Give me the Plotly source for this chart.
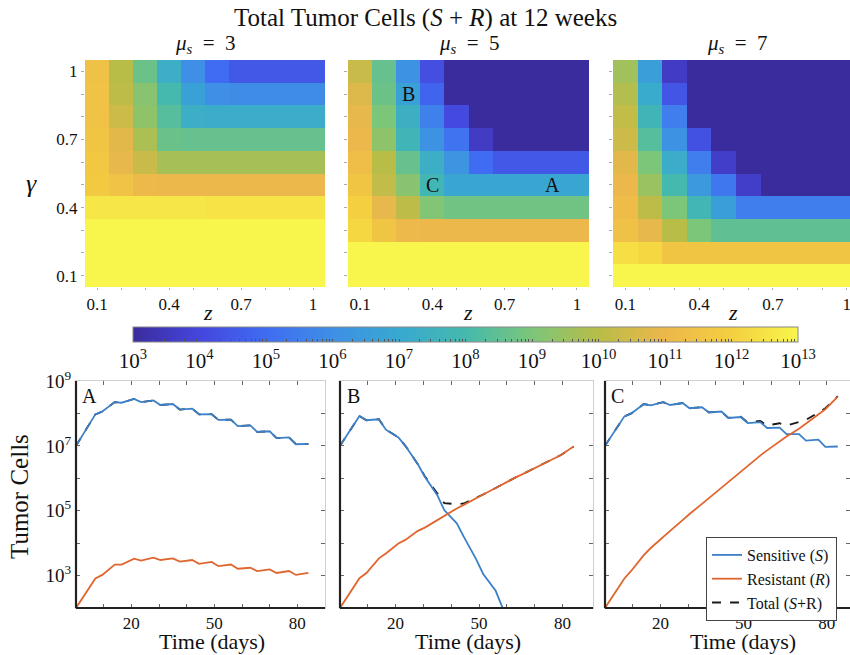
import math
import plotly.graph_objects as go

W, H = 850, 655
FONT = "Liberation Serif"
NB = "\u00a0"

# ---------------- heatmap data (log10 of total cells) ----------------
z_vals = [0.1, 0.2, 0.3, 0.4, 0.5, 0.6, 0.7, 0.8, 0.9, 1.0]
gamma_vals = [1.0, 0.9, 0.8, 0.7, 0.6, 0.5, 0.4, 0.3, 0.2, 0.1]   # rows, top to bottom
axis_ticktext = ["0.1", "", "", "0.4", "", "", "0.7", "", "", "1"]

mu3_log = [
    [11.4, 10.0, 8.7, 7.3, 6.0, 5.0, 4.5, 4.5, 4.5, 4.5],
    [11.5, 10.1, 9.2, 8.0, 6.7, 6.0, 5.9, 5.9, 5.9, 5.9],
    [11.5, 10.4, 9.3, 8.3, 7.3, 7.2, 7.2, 7.2, 7.2, 7.2],
    [11.6, 10.8, 9.8, 8.7, 8.6, 8.6, 8.6, 8.6, 8.6, 8.6],
    [11.7, 10.9, 10.3, 9.7, 9.7, 9.7, 9.7, 9.7, 9.7, 9.7],
    [11.8, 11.5, 11.1, 11.0, 11.0, 11.0, 11.0, 11.0, 11.0, 11.0],
    [12.6, 12.6, 12.6, 12.6, 12.6, 12.5, 12.5, 12.5, 12.5, 12.5],
    [13.0, 13.0, 13.0, 13.0, 13.0, 13.0, 13.0, 13.0, 13.0, 13.0],
    [13.0, 13.0, 13.0, 13.0, 13.0, 13.0, 13.0, 13.0, 13.0, 13.0],
    [13.0, 13.0, 13.0, 13.0, 13.0, 13.0, 13.0, 13.0, 13.0, 13.0],
]
mu5_log = [
    [10.3, 8.6, 6.1, 4.2, 3.0, 3.0, 3.0, 3.0, 3.0, 3.0],
    [10.7, 8.7, 6.7, 4.8, 3.0, 3.0, 3.0, 3.0, 3.0, 3.0],
    [10.9, 9.0, 7.4, 5.6, 4.1, 3.0, 3.0, 3.0, 3.0, 3.0],
    [11.0, 9.3, 7.7, 6.1, 5.2, 3.6, 3.0, 3.0, 3.0, 3.0],
    [11.3, 10.0, 8.6, 7.3, 6.2, 5.0, 4.5, 4.5, 4.5, 4.5],
    [11.6, 10.2, 9.2, 7.8, 6.9, 6.9, 6.9, 6.9, 6.9, 6.9],
    [12.0, 10.9, 10.1, 9.1, 8.8, 8.8, 8.8, 8.8, 8.8, 8.8],
    [12.2, 11.6, 11.1, 11.0, 11.0, 11.0, 11.0, 11.0, 11.0, 11.0],
    [13.0, 13.0, 13.0, 13.0, 13.0, 13.0, 13.0, 13.0, 13.0, 13.0],
    [13.0, 13.0, 13.0, 13.0, 13.0, 13.0, 13.0, 13.0, 13.0, 13.0],
]
mu7_log = [
    [9.6, 6.6, 3.6, 3.0, 3.0, 3.0, 3.0, 3.0, 3.0, 3.0],
    [9.9, 7.1, 4.4, 3.0, 3.0, 3.0, 3.0, 3.0, 3.0, 3.0],
    [10.2, 7.7, 5.5, 3.0, 3.0, 3.0, 3.0, 3.0, 3.0, 3.0],
    [10.4, 8.3, 6.1, 4.3, 3.0, 3.0, 3.0, 3.0, 3.0, 3.0],
    [10.8, 9.0, 7.2, 5.5, 3.7, 3.0, 3.0, 3.0, 3.0, 3.0],
    [11.0, 9.5, 8.0, 6.4, 5.3, 3.7, 3.0, 3.0, 3.0, 3.0],
    [11.2, 10.1, 9.0, 7.8, 6.6, 5.5, 5.5, 5.5, 5.5, 5.5],
    [11.4, 10.9, 10.0, 9.0, 8.5, 8.5, 8.5, 8.5, 8.5, 8.5],
    [12.4, 12.2, 11.6, 11.6, 11.6, 11.6, 11.6, 11.6, 11.6, 11.6],
    [13.0, 13.0, 13.0, 13.0, 13.0, 13.0, 13.0, 13.0, 13.0, 13.0],
]
mu_labels = ["3", "5", "7"]

# ---------------- time courses (log10 cells) ----------------
t_days = [0, 7, 9.5, 14, 16.5, 21, 23.5, 28, 30.5, 35, 37.5, 42, 44.5, 49,
          51.5, 56, 58.5, 63, 65.5, 70, 72.5, 77, 79.5, 84]

A_S = [7.0, 7.97, 8.06, 8.35, 8.33, 8.45, 8.35, 8.40, 8.26, 8.29, 8.12, 8.15,
       7.97, 7.98, 7.80, 7.81, 7.61, 7.63, 7.43, 7.45, 7.24, 7.26, 7.05, 7.06]
A_R = [2.0, 2.91, 3.02, 3.34, 3.34, 3.52, 3.46, 3.55, 3.48, 3.53, 3.43, 3.48,
       3.36, 3.42, 3.29, 3.34, 3.21, 3.24, 3.14, 3.19, 3.08, 3.14, 3.02, 3.08]

B_S = [7.0, 7.92, 7.79, 7.82, 7.50, 7.26, 7.0, 6.43, 6.05, 5.48, 5.02, 4.61,
       4.20, 3.50, 3.05, 2.53, 2.0, 1.4, None, None, None, None, None, None]
B_R = [2.0, 2.92, 3.08, 3.53, 3.68, 3.99, 4.10, 4.38, 4.48, 4.72, 4.83, 5.07,
       5.18, 5.40, 5.50, 5.70, 5.82, 6.02, 6.12, 6.32, 6.42, 6.62, 6.72, 6.98]

C_S = [7.0, 7.91, 8.0, 8.29, 8.25, 8.35, 8.26, 8.32, 8.16, 8.19, 8.03, 8.06,
       7.86, 7.89, 7.70, 7.73, 7.55, 7.56, 7.36, 7.36, 7.16, 7.19, 6.97, 6.98]
C_R = [2.0, 2.91, 3.15, 3.63, 3.85, 4.20, 4.38, 4.71, 4.90, 5.21, 5.39, 5.70,
       5.89, 6.21, 6.39, 6.70, 6.86, 7.13, 7.29, 7.53, 7.69, 7.96, 8.13, 8.52]

panel_letters = ["A", "B", "C"]
time_ticks = [10, 20, 30, 40, 50, 60, 70, 80]
time_ticktext = ["", "20", "", "", "50", "", "", "80"]
cell_tickvals = [1e2, 1e3, 1e4, 1e5, 1e6, 1e7, 1e8, 1e9]
cell_ticktext = ["", "10<sup>3</sup>", "", "10<sup>5</sup>", "", "10<sup>7</sup>", "", "10<sup>9</sup>"]

BLUE = "#3b80c9"
ORANGE = "#e0662f"

parula = [
    [0.0, "#3b2c9d"], [0.1, "#4546dd"], [0.2, "#3f6cf2"], [0.3, "#3e8fe5"],
    [0.4, "#38a9d0"], [0.5, "#45b9ad"], [0.6, "#7cc679"], [0.7, "#b8bd48"],
    [0.8, "#ecb74b"], [0.9, "#f4cf40"], [1.0, "#f8f64c"],
]


def px_x(p):
    return p / W


def px_y(p):
    return 1 - p / H


fig = go.Figure()

# colorbar ticks (major + minor)
cb_vals, cb_text = [], []
for n in range(3, 14):
    cb_vals.append(n)
    cb_text.append("10<sup>%d</sup>" % n)
    if n < 13:
        for k in range(2, 10):
            cb_vals.append(n + math.log10(k))
            cb_text.append("")

hm_data = [mu3_log, mu5_log, mu7_log]
hm_xdom = [(85, 325), (348, 589), (613, 850)]
hm_xrange = [[0.05, 1.05], [0.05, 1.05], [0.05, 1.0134]]
hm_ydom = [px_y(287), px_y(60)]

for i in range(3):
    ax = "" if i == 0 else str(i + 1)
    tr = go.Heatmap(
        x=z_vals, y=gamma_vals, z=hm_data[i], colorscale=parula, zmin=3, zmax=13,
        xaxis="x" + ax, yaxis="y" + ax, showscale=(i == 0), hoverinfo="skip",
    )
    if i == 0:
        tr.colorbar = dict(
            orientation="h", x=px_x(465.5), xanchor="center", y=px_y(327), yanchor="top",
            len=665, lenmode="pixels", thickness=15, xpad=0, ypad=0,
            outlinewidth=1, outlinecolor="#888",
            tickmode="array", tickvals=cb_vals, ticktext=cb_text, tickangle=0,
            ticks="inside", ticklen=3, tickcolor="#555",
            tickfont=dict(family=FONT, size=21, color="#111"),
        )
    fig.add_trace(tr)
    fig.layout["xaxis" + ax] = dict(
        domain=[px_x(hm_xdom[i][0]), px_x(hm_xdom[i][1])], anchor="y" + ax,
        range=hm_xrange[i], tickmode="array", tickvals=z_vals, ticktext=axis_ticktext,
        ticks="outside", ticklen=2, tickcolor="#aaa", showline=False, showgrid=False,
        zeroline=False, ticklabeloverflow="allow", ticklabelstandoff=0,
        tickfont=dict(family=FONT, size=17, color="#111"),
    )
    fig.layout["yaxis" + ax] = dict(
        domain=hm_ydom, anchor="x" + ax, range=[0.05, 1.05], tickmode="array",
        tickvals=[0.1, 0.2, 0.3, 0.4, 0.5, 0.6, 0.7, 0.8, 0.9, 1.0],
        ticktext=axis_ticktext, showticklabels=(i == 0),
        ticks="outside", ticklen=3, tickcolor="#aaa", showline=False, showgrid=False,
        zeroline=False, tickfont=dict(family=FONT, size=17, color="#111"),
    )

# ---------------- line panels ----------------
line_sets = [(A_S, A_R), (B_S, B_R), (C_S, C_R)]
ln_xdom = [(76, 325), (340, 593), (605, 850)]
ln_xrange = [[0, 90], [0, 91], [0, 88.4]]
ln_ydom = [px_y(608), px_y(381)]
shapes = []

for i in range(3):
    ax = str(i + 4)
    S_log, R_log = line_sets[i]
    S_lin = [None if v is None else 10 ** v for v in S_log]
    R_lin = [10 ** v for v in R_log]
    T_lin = [r if s is None else s + r for s, r in zip(S_lin, R_lin)]
    show = (i == 2)
    fig.add_trace(go.Scatter(
        x=t_days, y=T_lin, mode="lines", name="Total (<i>S</i>+R)",
        line=dict(color="#1a1a1a", width=1.8, dash="dash"),
        xaxis="x" + ax, yaxis="y" + ax, showlegend=show, legendrank=3, hoverinfo="skip"))
    fig.add_trace(go.Scatter(
        x=t_days, y=S_lin, mode="lines", name="Sensitive (<i>S</i>)",
        line=dict(color=BLUE, width=1.8), connectgaps=False,
        xaxis="x" + ax, yaxis="y" + ax, showlegend=show, legendrank=1, hoverinfo="skip"))
    fig.add_trace(go.Scatter(
        x=t_days, y=R_lin, mode="lines", name="Resistant (<i>R</i>)",
        line=dict(color=ORANGE, width=1.8),
        xaxis="x" + ax, yaxis="y" + ax, showlegend=show, legendrank=2, hoverinfo="skip"))

    fig.layout["xaxis" + ax] = dict(
        domain=[px_x(ln_xdom[i][0]), px_x(ln_xdom[i][1])], anchor="y" + ax,
        range=ln_xrange[i], tickmode="array", tickvals=time_ticks, ticktext=time_ticktext,
        ticks="inside", ticklen=4, tickcolor="#666", showline=True, linecolor="#cfcfcf",
        linewidth=1, mirror="allticks", showgrid=False, zeroline=False,
        ticklabelstandoff=0,
        tickfont=dict(family=FONT, size=17, color="#111"),
    )
    fig.layout["yaxis" + ax] = dict(
        domain=ln_ydom, anchor="x" + ax, type="log", range=[2, 9],
        tickmode="array", tickvals=cell_tickvals, ticktext=cell_ticktext,
        showticklabels=(i == 0),
        ticks="inside", ticklen=4, tickcolor="#666", showline=True, linecolor="#cfcfcf",
        linewidth=1, mirror="allticks", showgrid=False, zeroline=False,
        tickfont=dict(family=FONT, size=19, color="#111"),
    )
    shapes.append(dict(type="line", xref="x%s domain" % ax, yref="y%s domain" % ax,
                       x0=0, x1=0, y0=0, y1=1, line=dict(color="#222", width=2.2)))
    shapes.append(dict(type="line", xref="x%s domain" % ax, yref="y%s domain" % ax,
                       x0=0, x1=1, y0=0, y1=0, line=dict(color="#222", width=2.2)))

# ---------------- annotations ----------------
ann = []


def text(x, y, s, size, **kw):
    d = dict(x=x, y=y, xref="paper", yref="paper", text=s, showarrow=False,
             xanchor="center", yanchor="middle",
             font=dict(family=FONT, size=size, color="#111"))
    d.update(kw)
    ann.append(d)


text(px_x(425), px_y(18), "Total Tumor Cells (<i>S</i> + <i>R</i>) at 12 weeks", 25)
for cx, lab in zip([205, 469, 737], mu_labels):
    text(px_x(cx), px_y(44), "<i>μ<sub>s</sub></i>" + NB * 2 + "=" + NB * 2 + lab, 21)
for cx in [208, 468, 733]:
    text(px_x(cx), px_y(312), "<i>z</i>", 22)
text(px_x(32), px_y(183), "<i>γ</i>", 26)

# points A, B, C on the mu_s = 5 map
for zx, gy, lab in [(0.3, 0.9, "B"), (0.4, 0.5, "C"), (0.9, 0.5, "A")]:
    ann.append(dict(x=zx, y=gy, xref="x2", yref="y2", text=lab, showarrow=False,
                    font=dict(family=FONT, size=20, color="#111")))

for i, lab in enumerate(panel_letters):
    ax = str(i + 4)
    ann.append(dict(x=0.018, y=0.99, xref="x%s domain" % ax, yref="y%s domain" % ax,
                    xanchor="left", yanchor="top", text=lab, showarrow=False,
                    font=dict(family=FONT, size=20, color="#111")))

text(px_x(20), px_y(497), "Tumor Cells", 25, textangle=-90)
for cx in [212, 468, 743]:
    text(px_x(cx), px_y(641), "Time (days)", 22)

fig.update_layout(
    width=W, height=H, margin=dict(l=0, r=0, t=0, b=0, autoexpand=False),
    paper_bgcolor="white", plot_bgcolor="white",
    font=dict(family=FONT, size=15, color="#111"),
    annotations=ann, shapes=shapes,
    legend=dict(x=px_x(706), y=px_y(537), xanchor="left", yanchor="top",
                bgcolor="white", bordercolor="#444", borderwidth=1,
                font=dict(family=FONT, size=16, color="#111"),
                traceorder="normal", tracegroupgap=0, itemwidth=30),
)

fig.write_html("out.html", config={"displayModeBar": False},
               post_script="document.body.style.margin='0px';")
